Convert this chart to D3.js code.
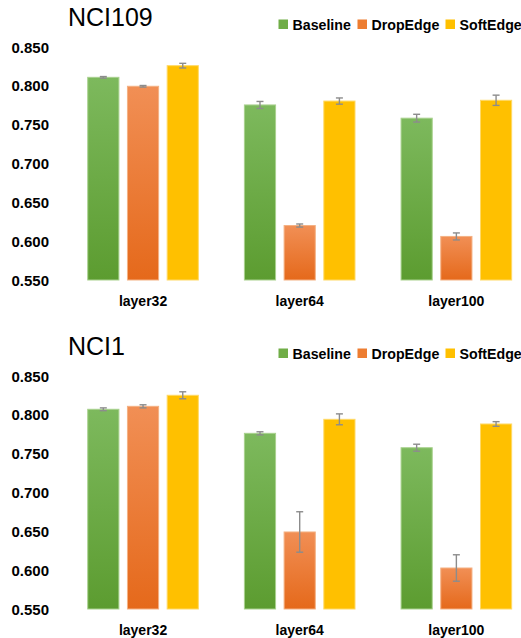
<!DOCTYPE html>
<html><head><meta charset="utf-8">
<script src="https://cdn.jsdelivr.net/npm/d3@7"></script>
<style>
html,body{margin:0;padding:0;background:#fff;}
svg{display:block;}
text{font-family:"Liberation Sans",Arial,sans-serif;}
</style></head>
<body>
<svg id="chart" width="521" height="638"></svg>
<script>
const categories = ["layer32", "layer64", "layer100"];
const series = ["Baseline", "DropEdge", "SoftEdge"];
const yTicks = [0.55, 0.60, 0.65, 0.70, 0.75, 0.80, 0.85];

const nci109Values = {
  Baseline: [0.8105, 0.775, 0.758],
  DropEdge: [0.799, 0.620, 0.606],
  SoftEdge: [0.8255, 0.780, 0.781]
};
const nci109Errors = {
  Baseline: [0.001, 0.0045, 0.005],
  DropEdge: [0.001, 0.002, 0.0045],
  SoftEdge: [0.003, 0.004, 0.0066]
};
const nci1Values = {
  Baseline: [0.8067, 0.7758, 0.7573],
  DropEdge: [0.8105, 0.649, 0.6027],
  SoftEdge: [0.8247, 0.7938, 0.7878]
};
const nci1Errors = {
  Baseline: [0.0018, 0.002, 0.0045],
  DropEdge: [0.002, 0.026, 0.017],
  SoftEdge: [0.0045, 0.007, 0.003]
};

const svg = d3.select("#chart");
const defs = svg.append("defs");
const gradStops = {
  Baseline: ["#7db95d", "#5c9c30"],
  DropEdge: ["#f18f55", "#e5691b"],
  SoftEdge: ["#ffc000", "#ffc000"]
};
const borderCol = {Baseline: "#a9d18e", DropEdge: "#f4b183", SoftEdge: "#ffd966"};
const legendCol = {Baseline: "#70ad47", DropEdge: "#ed7d31", SoftEdge: "#ffc000"};
series.forEach(s => {
  const g = defs.append("linearGradient").attr("id", "g-" + s)
    .attr("x1", 0).attr("y1", 0).attr("x2", 0).attr("y2", 1);
  g.append("stop").attr("offset", "0%").attr("stop-color", gradStops[s][0]);
  g.append("stop").attr("offset", "100%").attr("stop-color", gradStops[s][1]);
});

function drawPanel(top, title, values, errors) {
  const g = svg.append("g").attr("transform", `translate(0,${top})`);
  const y = d3.scaleLinear().domain([0.55, 0.85]).range([280, 46.6]);
  const x0 = d3.scaleBand().domain(categories).range([64.7, 534.7])
    .paddingInner(0.294).paddingOuter(0.147);
  const x1 = d3.scaleBand().domain(series).range([0, x0.bandwidth()])
    .paddingInner(0.215).paddingOuter(0);

  // title
  g.append("text").attr("x", 68).attr("y", 26).attr("font-size", 25)
    .attr("fill", "#000").text(title);

  // y axis labels
  const yAxis = d3.axisLeft(y).tickValues(yTicks).tickFormat(d3.format(".3f"))
    .tickSize(0).tickPadding(0);
  const ya = g.append("g").attr("transform", "translate(49,0)").call(yAxis);
  ya.select(".domain").remove();
  ya.selectAll("text").attr("font-size", 15).attr("font-weight", "bold")
    .attr("fill", "#000").attr("font-family", "'Liberation Sans',Arial,sans-serif")
    .attr("dy", "0.36em");

  // x axis labels
  const xAxis = d3.axisBottom(x0).tickSize(0).tickPadding(0);
  const xa = g.append("g").attr("transform", "translate(0,296)").call(xAxis);
  xa.select(".domain").remove();
  xa.selectAll("text").attr("font-size", 14).attr("font-weight", "bold")
    .attr("fill", "#000").attr("font-family", "'Liberation Sans',Arial,sans-serif")
    .attr("dy", "0.71em");

  // bars
  categories.forEach((c, ci) => {
    series.forEach(s => {
      const v = values[s][ci], e = errors[s][ci];
      const bx = x0(c) + x1(s);
      g.append("rect").attr("x", bx).attr("y", y(v))
        .attr("width", x1.bandwidth()).attr("height", y(0.55) - y(v))
        .attr("fill", `url(#g-${s})`).attr("stroke", borderCol[s]).attr("stroke-width", 1);
      const cx = bx + x1.bandwidth() / 2;
      const eg = g.append("g").attr("stroke", "#8c8c8c").attr("stroke-width", 1.4);
      eg.append("line").attr("x1", cx).attr("x2", cx).attr("y1", y(v + e)).attr("y2", y(v - e));
      eg.append("line").attr("x1", cx - 3.5).attr("x2", cx + 3.5).attr("y1", y(v + e)).attr("y2", y(v + e));
      eg.append("line").attr("x1", cx - 3.5).attr("x2", cx + 3.5).attr("y1", y(v - e)).attr("y2", y(v - e));
    });
  });

  // legend
  const legX = [278.5, 357.5, 445.5];
  series.forEach((s, i) => {
    g.append("rect").attr("x", legX[i]).attr("y", 19.5).attr("width", 9.5).attr("height", 9.5)
      .attr("fill", legendCol[s]);
    g.append("text").attr("x", legX[i] + 14).attr("y", 29.5).attr("font-size", 14.2)
      .attr("font-weight", "bold").attr("fill", "#000").text(s);
  });
}

drawPanel(0, "NCI109", nci109Values, nci109Errors);
drawPanel(329, "NCI1", nci1Values, nci1Errors);
</script>
</body></html>
